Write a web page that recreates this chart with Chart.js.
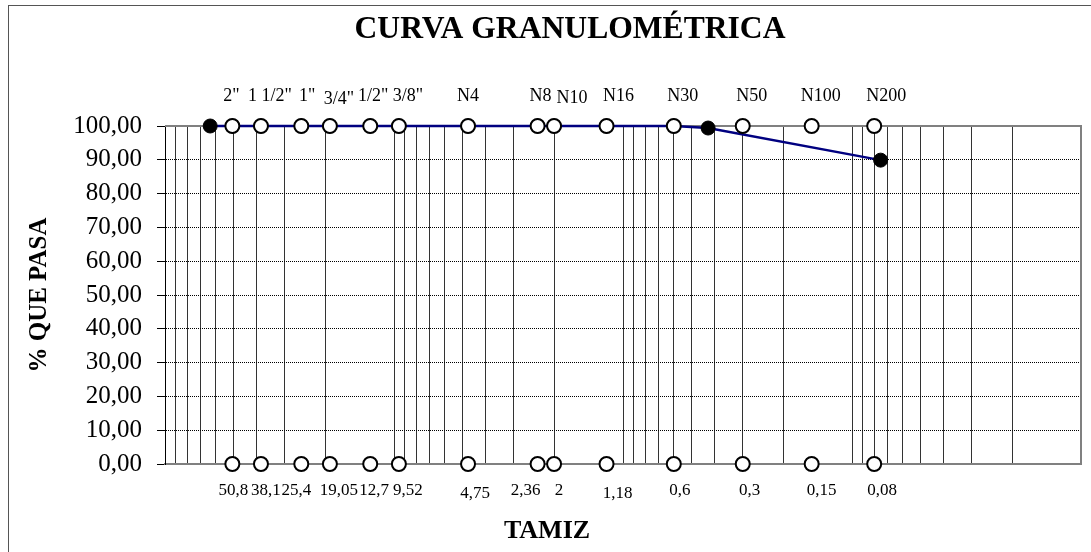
<!DOCTYPE html>
<html>
<head>
<meta charset="utf-8">
<title>Curva granulométrica</title>
<script src="https://cdn.jsdelivr.net/npm/chart.js@4.4.1/dist/chart.umd.min.js"></script>
<style>
  html,body{ margin:0; padding:0; background:#fff; }
  #wrap{ width:1091px; height:552px; }
</style>
</head>
<body>
<div id="wrap"><canvas id="granChart" width="1091" height="552"></canvas></div>
<script>
// tamices de la serie ASTM
const tamices      = ['2"','1 1/2"','1"','3/4"','1/2"','3/8"','N4','N8','N10','N16','N30','N50','N100','N200'];
const aberturas    = [50.8, 38.1, 25.4, 19.05, 12.7, 9.52, 4.75, 2.36, 2, 1.18, 0.6, 0.3, 0.15, 0.08];
const aberturasTxt = ['50,8','38,1','25,4','19,05','12,7','9,52','4,75','2,36','2','1,18','0,6','0,3','0,15','0,08'];

// curva del material (mm, % que pasa)
const curvaMm   = [63.5, 50.8, 38.1, 25.4, 19.05, 12.7, 9.52, 4.75, 2.36, 2, 1.18, 0.6, 0.425, 0.075];
const curvaPasa = [100, 100, 100, 100, 100, 100, 100, 100, 100, 100, 100, 100, 99.4, 89.9];

// lineas verticales del papel logaritmico (100 a 0,01 mm)
const lineasLog = [];
for (let e = -2; e < 2; e++) {
  for (let m = 1; m < 10; m++) lineasLog.push(+(m * Math.pow(10, e)).toPrecision(3));
}
lineasLog.push(100);

// ajuste fino de las etiquetas (px), como quedaron movidas a mano en la hoja
const nudgeTamiz = { dx:[-1, 9, 6, 9, 3, 9, 0, 3, 18, 12, 9, 9, 9, 12], dy:[0, 0, 0, 3, 0, 0, 0, 0, 2, 0, 0, 0, 0, 0] };
const nudgeAbert = { dx:[1, 5, -5, 9, 4, 9, 7, -12, 5, 11, 6, 7, 10, 8],  dy:[0, 0, 0, 0, 0, 0, 3, 0, 0, 3, 0, 0, 0, 0] };

const SERIF = "'Liberation Serif', 'Times New Roman', serif";
Chart.defaults.font.family = SERIF;
Chart.defaults.color = '#000';

/* etiquetas de tamiz arriba y de abertura abajo */
const etiquetas = {
  id:'etiquetas',
  afterDatasetsDraw(chart){
    const ctx = chart.ctx;
    ctx.save();
    ctx.fillStyle = '#000';
    ctx.textAlign = 'center';
    ctx.textBaseline = 'middle';
    ctx.font = '18px ' + SERIF;
    chart.getDatasetMeta(0).data.forEach((p,i) =>
      ctx.fillText(tamices[i], p.x + nudgeTamiz.dx[i], p.y - 30 + nudgeTamiz.dy[i]));
    ctx.font = '17px ' + SERIF;
    chart.getDatasetMeta(1).data.forEach((p,i) =>
      ctx.fillText(aberturasTxt[i], p.x + nudgeAbert.dx[i], p.y + 27 + nudgeAbert.dy[i]));
    ctx.restore();
  }
};

/* marco gris del area de trazado, titulos y borde exterior */
const marco = {
  id:'marco',
  beforeDatasetsDraw(chart){
    const { ctx, chartArea:a } = chart;
    ctx.save();
    ctx.strokeStyle = '#808080';
    ctx.lineWidth = 2;
    ctx.beginPath();
    ctx.moveTo(a.left, a.top);
    ctx.lineTo(a.right, a.top);
    ctx.lineTo(a.right, a.bottom);
    ctx.stroke();
    ctx.restore();
  },
  afterDraw(chart){
    const ctx = chart.ctx;
    ctx.save();
    ctx.fillStyle = '#000';
    ctx.textAlign = 'center';
    ctx.textBaseline = 'middle';
    ctx.font = 'bold 31.6px ' + SERIF;
    ctx.fillText('CURVA GRANULOMÉTRICA', 570, 30);
    ctx.font = 'bold 26px ' + SERIF;
    ctx.fillText('TAMIZ', 547, 531);
    ctx.strokeStyle = '#555';
    ctx.lineWidth = 1;
    ctx.strokeRect(8.5, 5.5, 1200, 700);
    ctx.restore();
  }
};

const puntoAbierto = {
  showLine:false,
  pointRadius:7,
  pointHoverRadius:7,
  pointBorderWidth:2,
  pointBackgroundColor:'#fff',
  pointBorderColor:'#000',
  clip:false
};

new Chart(document.getElementById('granChart'), {
  type:'scatter',
  data:{
    datasets:[
      { ...puntoAbierto, data: aberturas.map(x => ({ x, y:100 })) },
      { ...puntoAbierto, data: aberturas.map(x => ({ x, y:0 })) },
      {
        data: curvaMm.map((x,i) => ({ x, y:curvaPasa[i] })),
        showLine:true,
        borderColor:'#000080',
        borderWidth:2.5,
        tension:0,
        pointRadius:7,
        pointHoverRadius:7,
        pointBorderWidth:1,
        pointBackgroundColor:'#000',
        pointBorderColor:'#000',
        clip:false
      }
    ]
  },
  options:{
    responsive:false,
    animation:false,
    layout:{ padding:{ left:0, right:10, top:126, bottom:0 } },
    plugins:{
      legend:{ display:false },
      tooltip:{ enabled:false },
      title:{ display:false }
    },
    scales:{
      x:{
        type:'logarithmic',
        min:0.01, max:100,
        reverse:true,
        afterBuildTicks: s => { s.ticks = lineasLog.map(v => ({ value:v })); },
        afterFit: s => { s.height = 88; },
        ticks:{ display:false },
        grid:{ color:'#333', lineWidth:1, drawTicks:false },
        border:{ color:'#808080', width:2 },
        title:{ display:false }
      },
      y:{
        min:0, max:100,
        afterFit: s => { s.width = 165; },
        ticks:{
          stepSize:10,
          autoSkip:false,
          padding:15,
          color:'#000',
          font:{ size:25 },
          callback: v => v.toFixed(2).replace('.', ',')
        },
        grid:{
          color: c => (c.tick && (c.tick.value === 0 || c.tick.value === 100)) ? 'rgba(0,0,0,0)' : '#000',
          lineWidth:1,
          tickLength:8,
          tickColor:'#000',
          tickBorderDash:[]
        },
        border:{ color:'#000', width:1, dash:[1,1] },
        title:{ display:true, text:'% QUE PASA', color:'#000', font:{ size:25, weight:'bold' }, padding:{ top:25, bottom:0 } }
      }
    }
  },
  plugins:[marco, etiquetas]
});
</script>
</body>
</html>
